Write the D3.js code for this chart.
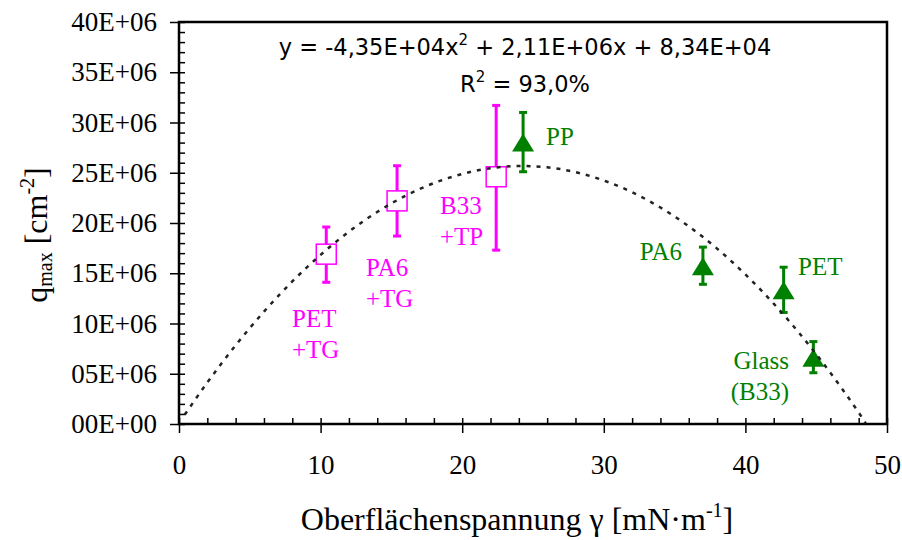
<!DOCTYPE html>
<html>
<head>
<meta charset="utf-8">
<script src="https://cdn.jsdelivr.net/npm/d3@7"></script>
<style>
  body { margin: 0; background: #fff; }
  svg { display: block; }
</style>
</head>
<body>
<div id="chart"></div>
<script>
// surface tension [mN/m] vs q_max [cm^-2]
var treatedNames = [["PET", "+TG"], ["PA6", "+TG"], ["B33", "+TP"]];
var treatedX = [10.4, 15.4, 22.4];
var treatedY = [16.9e6, 22.2e6, 24.6e6];
var treatedLo = [14.1e6, 18.7e6, 17.3e6];
var treatedHi = [19.6e6, 25.7e6, 31.7e6];

var rawNames = [["PP"], ["PA6"], ["PET"], ["Glass", "(B33)"]];
var rawX = [24.3, 37.0, 42.7, 44.8];
var rawY = [27.9e6, 15.6e6, 13.2e6, 6.5e6];
var rawLo = [25.1e6, 13.9e6, 11.1e6, 5.1e6];
var rawHi = [31.0e6, 17.6e6, 15.6e6, 8.2e6];

// polynomial trendline
var trendX = [0.4, 2, 4, 6, 8, 10, 12, 14, 16, 18, 20, 22, 24, 26, 28, 30, 32, 34, 36, 38, 40, 42, 44, 46, 48, 48.5];
var trendY = [0.92e6, 4.13e6, 7.83e6, 11.18e6, 14.18e6, 16.83e6, 19.14e6, 21.10e6, 22.71e6, 23.97e6, 24.88e6,
              25.45e6, 25.67e6, 25.54e6, 25.06e6, 24.23e6, 23.06e6, 21.54e6, 19.67e6, 17.45e6, 14.88e6,
              11.97e6, 8.71e6, 5.10e6, 1.14e6, 0.09e6];

var yTicks = [0, 5e6, 10e6, 15e6, 20e6, 25e6, 30e6, 35e6, 40e6];
var yTickLabels = ["00E+00", "05E+06", "10E+06", "15E+06", "20E+06", "25E+06", "30E+06", "35E+06", "40E+06"];
var xTicks = [0, 10, 20, 30, 40, 50];

var svgWidth = 902;
var svgHeight = 540;
var margin = { top: 22, right: 15, bottom: 116, left: 179 };
var width = svgWidth - margin.left - margin.right;
var height = svgHeight - margin.top - margin.bottom;

var magenta = "#ff00ff";
var green = "#008000";
var serif = "'Liberation Serif', 'Times New Roman', serif";

var svg = d3.select("#chart")
  .append("svg")
  .attr("width", svgWidth)
  .attr("height", svgHeight);

var g = svg.append("g")
  .attr("transform", `translate(${margin.left}, ${margin.top})`);

var x = d3.scaleLinear().domain([0, 50]).range([0, width]);
var y = d3.scaleLinear().domain([0, 40e6]).range([height, 0]);

// minor ticks (inside)
g.append("g")
  .call(d3.axisLeft(y).tickValues(d3.range(0, 40e6 + 1, 1e6)).tickSizeInner(-6).tickSizeOuter(0).tickFormat(""))
  .call(a => a.select(".domain").remove());
g.append("g")
  .attr("transform", `translate(0, ${height})`)
  .call(d3.axisBottom(x).tickValues(d3.range(0, 51, 2)).tickSizeInner(-6).tickSizeOuter(0).tickFormat(""))
  .call(a => a.select(".domain").remove());

// major axes
var yAxis = g.append("g")
  .call(d3.axisLeft(y).tickValues(yTicks).tickSizeInner(9).tickSizeOuter(0).tickPadding(13)
    .tickFormat((d, i) => yTickLabels[i]));
var xAxis = g.append("g")
  .attr("transform", `translate(0, ${height})`)
  .call(d3.axisBottom(x).tickValues(xTicks).tickSizeInner(9).tickSizeOuter(0).tickPadding(22));

[yAxis, xAxis].forEach(function(a) {
  a.selectAll("text")
    .attr("font-family", serif)
    .attr("font-size", "27px")
    .attr("fill", "#000");
  a.select(".domain").remove();
});
g.selectAll(".tick line").attr("stroke", "#000").attr("stroke-width", 1.5);

// frame
g.append("rect")
  .attr("x", 0).attr("y", 0)
  .attr("width", width).attr("height", height)
  .attr("fill", "none")
  .attr("stroke", "#000")
  .attr("stroke-width", 2.5);

// error bars
function errorBars(xs, lo, hi, color) {
  var eb = g.append("g").attr("stroke", color).attr("stroke-width", 3).attr("fill", "none");
  xs.forEach(function(v, i) {
    eb.append("line").attr("x1", x(v)).attr("x2", x(v)).attr("y1", y(lo[i])).attr("y2", y(hi[i]));
    [lo[i], hi[i]].forEach(function(e) {
      eb.append("line").attr("x1", x(v) - 4).attr("x2", x(v) + 4).attr("y1", y(e)).attr("y2", y(e));
    });
  });
}
errorBars(treatedX, treatedLo, treatedHi, magenta);
errorBars(rawX, rawLo, rawHi, green);

// open squares
g.selectAll(".sq")
  .data(treatedX)
  .enter()
  .append("rect")
  .attr("x", (d) => x(d) - 10)
  .attr("y", (d, i) => y(treatedY[i]) - 10)
  .attr("width", 20)
  .attr("height", 20)
  .attr("fill", "#fff")
  .attr("stroke", magenta)
  .attr("stroke-width", 1.5);

// filled triangles
g.selectAll(".tri")
  .data(rawX)
  .enter()
  .append("path")
  .attr("transform", (d, i) => `translate(${x(d)}, ${y(rawY[i])})`)
  .attr("d", "M0,-10 L11,8 L-11,8 Z")
  .attr("fill", green);

// dotted trendline
var line = d3.line()
  .x((d) => x(d))
  .y((d, i) => y(trendY[i]))
  .curve(d3.curveMonotoneX);
g.append("path")
  .attr("d", line(trendX))
  .attr("fill", "none")
  .attr("stroke", "#222")
  .attr("stroke-width", 2.5)
  .attr("stroke-dasharray", "4,6");

// point labels
function labels(names, pos, color, anchor) {
  names.forEach(function(lines, i) {
    var t = svg.append("text")
      .attr("font-family", serif)
      .attr("font-size", "25px")
      .attr("fill", color)
      .attr("text-anchor", anchor[i]);
    lines.forEach(function(s, j) {
      t.append("tspan").attr("x", pos[i][0]).attr("y", pos[i][1] + j * 31).text(s);
    });
  });
}
labels(treatedNames, [[292, 327], [366, 276], [440, 214]], magenta, ["start", "start", "start"]);
labels(rawNames, [[546, 145], [682, 260], [798, 275], [789, 369]], green, ["start", "end", "start", "end"]);

// regression text
var eq = svg.append("text")
  .attr("x", 525).attr("y", 55)
  .attr("text-anchor", "middle")
  .attr("font-family", "'DejaVu Sans', Verdana, sans-serif")
  .attr("font-size", "22.5px")
  .attr("fill", "#000");
eq.append("tspan").text("y = -4,35E+04x");
eq.append("tspan").attr("font-size", "15px").attr("dy", -10).text("2");
eq.append("tspan").attr("dy", 10).text(" + 2,11E+06x + 8,34E+04");

var r2 = svg.append("text")
  .attr("x", 525).attr("y", 92)
  .attr("text-anchor", "middle")
  .attr("font-family", "'DejaVu Sans', Verdana, sans-serif")
  .attr("font-size", "22.5px")
  .attr("fill", "#000");
r2.append("tspan").text("R");
r2.append("tspan").attr("font-size", "15px").attr("dy", -10).text("2");
r2.append("tspan").attr("dy", 10).text(" = 93,0%");

// axis titles
var xt = svg.append("text")
  .attr("x", 517).attr("y", 530)
  .attr("text-anchor", "middle")
  .attr("font-family", serif)
  .attr("font-size", "32px")
  .attr("fill", "#000");
xt.append("tspan").text("Oberflächenspannung γ [mN·m");
xt.append("tspan").attr("font-size", "20px").attr("dy", -13).text("-1");
xt.append("tspan").attr("dy", 13).text("]");

var yt = svg.append("text")
  .attr("transform", "translate(47, 235) rotate(-90)")
  .attr("text-anchor", "middle")
  .attr("font-family", serif)
  .attr("font-size", "32px")
  .attr("fill", "#000");
yt.append("tspan").text("q");
yt.append("tspan").attr("font-size", "20px").attr("dy", 5).text("max");
yt.append("tspan").attr("dy", -5).text(" [cm");
yt.append("tspan").attr("font-size", "20px").attr("dy", -13).text("-2");
yt.append("tspan").attr("dy", 13).text("]");
</script>
</body>
</html>
